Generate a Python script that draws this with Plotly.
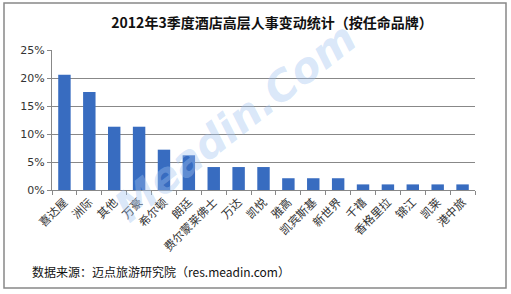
import plotly.graph_objects as go

categories = ["喜达屋", "洲际", "其他", "万豪", "希尔顿", "朗廷", "费尔蒙莱佛士", "万达", "凯悦",
              "雅高", "凯宾斯基", "新世界", "千禧", "香格里拉", "锦江", "凯莱", "港中旅"]
values = [0.206, 0.175, 0.113, 0.113, 0.072, 0.062, 0.041, 0.041, 0.041,
          0.021, 0.021, 0.021, 0.010, 0.010, 0.010, 0.010, 0.010]
y_ticks = [0, 0.05, 0.10, 0.15, 0.20, 0.25]
y_labels = ["0%", "5%", "10%", "15%", "20%", "25%"]

font_cjk = "Noto Sans CJK SC"

fig = go.Figure(go.Bar(
    x=categories, y=values,
    marker=dict(color="#386cc0", line=dict(width=0)),
    width=0.5,
))

fig.update_layout(
    width=511, height=294,
    margin=dict(l=52, r=36, t=50, b=104),
    paper_bgcolor="white", plot_bgcolor="white",
    showlegend=False,
    font=dict(family=font_cjk, color="#222"),
    title=dict(text="<b>2012年3季度酒店高层人事变动统计（按任命品牌）</b>",
               x=(272-52)/423, xref="paper", xanchor="center", y=1 - 23/294, yanchor="middle",
               font=dict(size=14, color="#111", family=font_cjk)),
    xaxis=dict(tickangle=-45, tickfont=dict(size=11.5, color="#333", family=font_cjk),
               showline=True, linecolor="#888", linewidth=1,
               ticks="outside", ticklen=4, tickcolor="#888", tickson="boundaries",
               showgrid=False, fixedrange=True),
    yaxis=dict(range=[0, 0.25], tickvals=y_ticks, ticktext=y_labels,
               tickfont=dict(size=11, color="#333", family="DejaVu Sans"),
               showline=True, linecolor="#888", linewidth=1,
               ticks="outside", ticklen=4, tickcolor="#888",
               showgrid=True, gridcolor="#888", gridwidth=1, zeroline=False),
    shapes=[dict(type="rect", xref="paper", yref="paper",
                 x0=-48/423, x1=(506-52)/423, y0=-(288-190)/140, y1=(190-3)/140,
                 line=dict(color="#888", width=1.5), fillcolor="rgba(0,0,0,0)", layer="below")],
    annotations=[
        dict(text="数据来源：迈点旅游研究院（res.meadin.com）", xref="paper", yref="paper",
             x=(30-52)/423, y=-(271-190)/140, xanchor="left", yanchor="middle",
             showarrow=False, font=dict(size=12, color="#111", family=font_cjk)),
        dict(text="<b><i>Meadin.Com</i></b>", xref="paper", yref="paper",
             x=(235-52)/423, y=(190-122)/140, xanchor="center", yanchor="middle",
             textangle=-38, showarrow=False,
             font=dict(size=42, color="rgba(160,195,240,0.4)", family="DejaVu Sans")),
    ],
)

fig.write_html("out.html")
